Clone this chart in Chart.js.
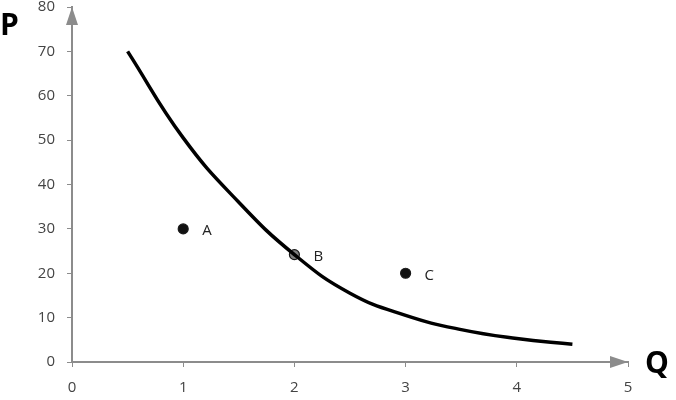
<!DOCTYPE html>
<html lang="en">
<head>
    <meta charset="UTF-8">
    <title>P vs Q</title>
    <script src="https://cdn.jsdelivr.net/npm/chart.js@4.4.1/dist/chart.umd.min.js"></script>
    <style>
        body { margin: 0; background: #fff; }
        #wrap { width: 676px; height: 400px; position: relative; }
    </style>
</head>
<body>
    <div id="wrap"><canvas id="chart"></canvas></div>
    <script>
        // curve
        var curveQ = [0.5, 1, 1.5, 2, 2.5, 3, 3.5, 4, 4.5];
        var curveP = [70, 50.5, 36, 24.2, 15.5, 10.5, 7.3, 5.3, 4];

        // labelled points
        var pointNames = ['A', 'B', 'C'];
        var pointQ = [1, 2, 3];
        var pointP = [30, 24.2, 20];
        var pointFill = ['#111', '#808080', '#111'];

        var xTicks = [0, 1, 2, 3, 4, 5];
        var yTicks = [0, 10, 20, 30, 40, 50, 60, 70, 80];

        var axisGray = '#8c8c8c';
        var labelFont = '"Open Sans", "Liberation Sans", sans-serif';

        var extras = {
            id: 'extras',
            afterDraw: function (chart) {
                var ctx = chart.ctx;
                var xs = chart.scales.x, ys = chart.scales.y;
                var x0 = xs.getPixelForValue(0), y0 = ys.getPixelForValue(0);
                var xEnd = xs.getPixelForValue(5), yTop = ys.getPixelForValue(80);
                ctx.save();
                ctx.fillStyle = axisGray;
                // arrow on y axis
                ctx.beginPath();
                ctx.moveTo(x0, yTop);
                ctx.lineTo(x0 - 6, yTop + 18);
                ctx.lineTo(x0 + 6, yTop + 18);
                ctx.closePath();
                ctx.fill();
                // arrow on x axis
                ctx.beginPath();
                ctx.moveTo(xEnd, y0);
                ctx.lineTo(xEnd - 18, y0 - 6);
                ctx.lineTo(xEnd - 18, y0 + 6);
                ctx.closePath();
                ctx.fill();

                // axis names
                ctx.fillStyle = '#000';
                ctx.font = 'bold 30px ' + labelFont;
                ctx.textBaseline = 'middle';
                ctx.textAlign = 'left';
                ctx.fillText('P', 0, 26);
                ctx.fillText('Q', 645, y0 + 2);

                // point names
                var meta = chart.getDatasetMeta(1);
                ctx.font = '15px ' + labelFont;
                ctx.fillStyle = '#222';
                meta.data.forEach(function (el, i) {
                    ctx.fillText(pointNames[i], el.x + 19, el.y + 2);
                });
                ctx.restore();
            }
        };

        var ctx = document.getElementById('chart').getContext('2d');
        var chart = new Chart(ctx, {
            type: 'scatter',
            data: {
                datasets: [{
                    data: curveQ.map(function (q, i) { return { x: q, y: curveP[i] }; }),
                    showLine: true,
                    borderColor: '#000',
                    borderWidth: 3.5,
                    pointRadius: 0,
                    tension: 0.45
                }, {
                    data: pointQ.map(function (q, i) { return { x: q, y: pointP[i] }; }),
                    showLine: false,
                    pointRadius: 5,
                    pointBackgroundColor: pointFill,
                    pointBorderColor: '#1a1a1a',
                    pointBorderWidth: 1.2
                }]
            },
            options: {
                responsive: true,
                maintainAspectRatio: false,
                animation: false,
                layout: { padding: { top: 7, right: 48, left: 0, bottom: 0 } },
                plugins: { legend: { display: false }, tooltip: { enabled: false } },
                scales: {
                    x: {
                        type: 'linear', min: 0, max: 5,
                        afterBuildTicks: function (s) { s.ticks = xTicks.map(function (v) { return { value: v }; }); },
                        afterFit: function (s) { s.height = 38; s.paddingLeft = 0; s.paddingRight = 0; },
                        grid: { drawOnChartArea: false, drawTicks: true, tickLength: 5, color: axisGray },
                        border: { color: axisGray, width: 2 },
                        ticks: { padding: 12, color: '#444', font: { family: labelFont, size: 15 } }
                    },
                    y: {
                        type: 'linear', min: 0, max: 80,
                        afterBuildTicks: function (s) { s.ticks = yTicks.map(function (v) { return { value: v }; }); },
                        afterFit: function (s) { s.width = 72; s.paddingTop = 0; s.paddingBottom = 0; },
                        grid: { drawOnChartArea: false, drawTicks: true, tickLength: 5, color: axisGray },
                        border: { color: axisGray, width: 2 },
                        ticks: { padding: 12, color: '#444', font: { family: labelFont, size: 15 } }
                    }
                }
            },
            plugins: [extras]
        });
    </script>
</body>
</html>
